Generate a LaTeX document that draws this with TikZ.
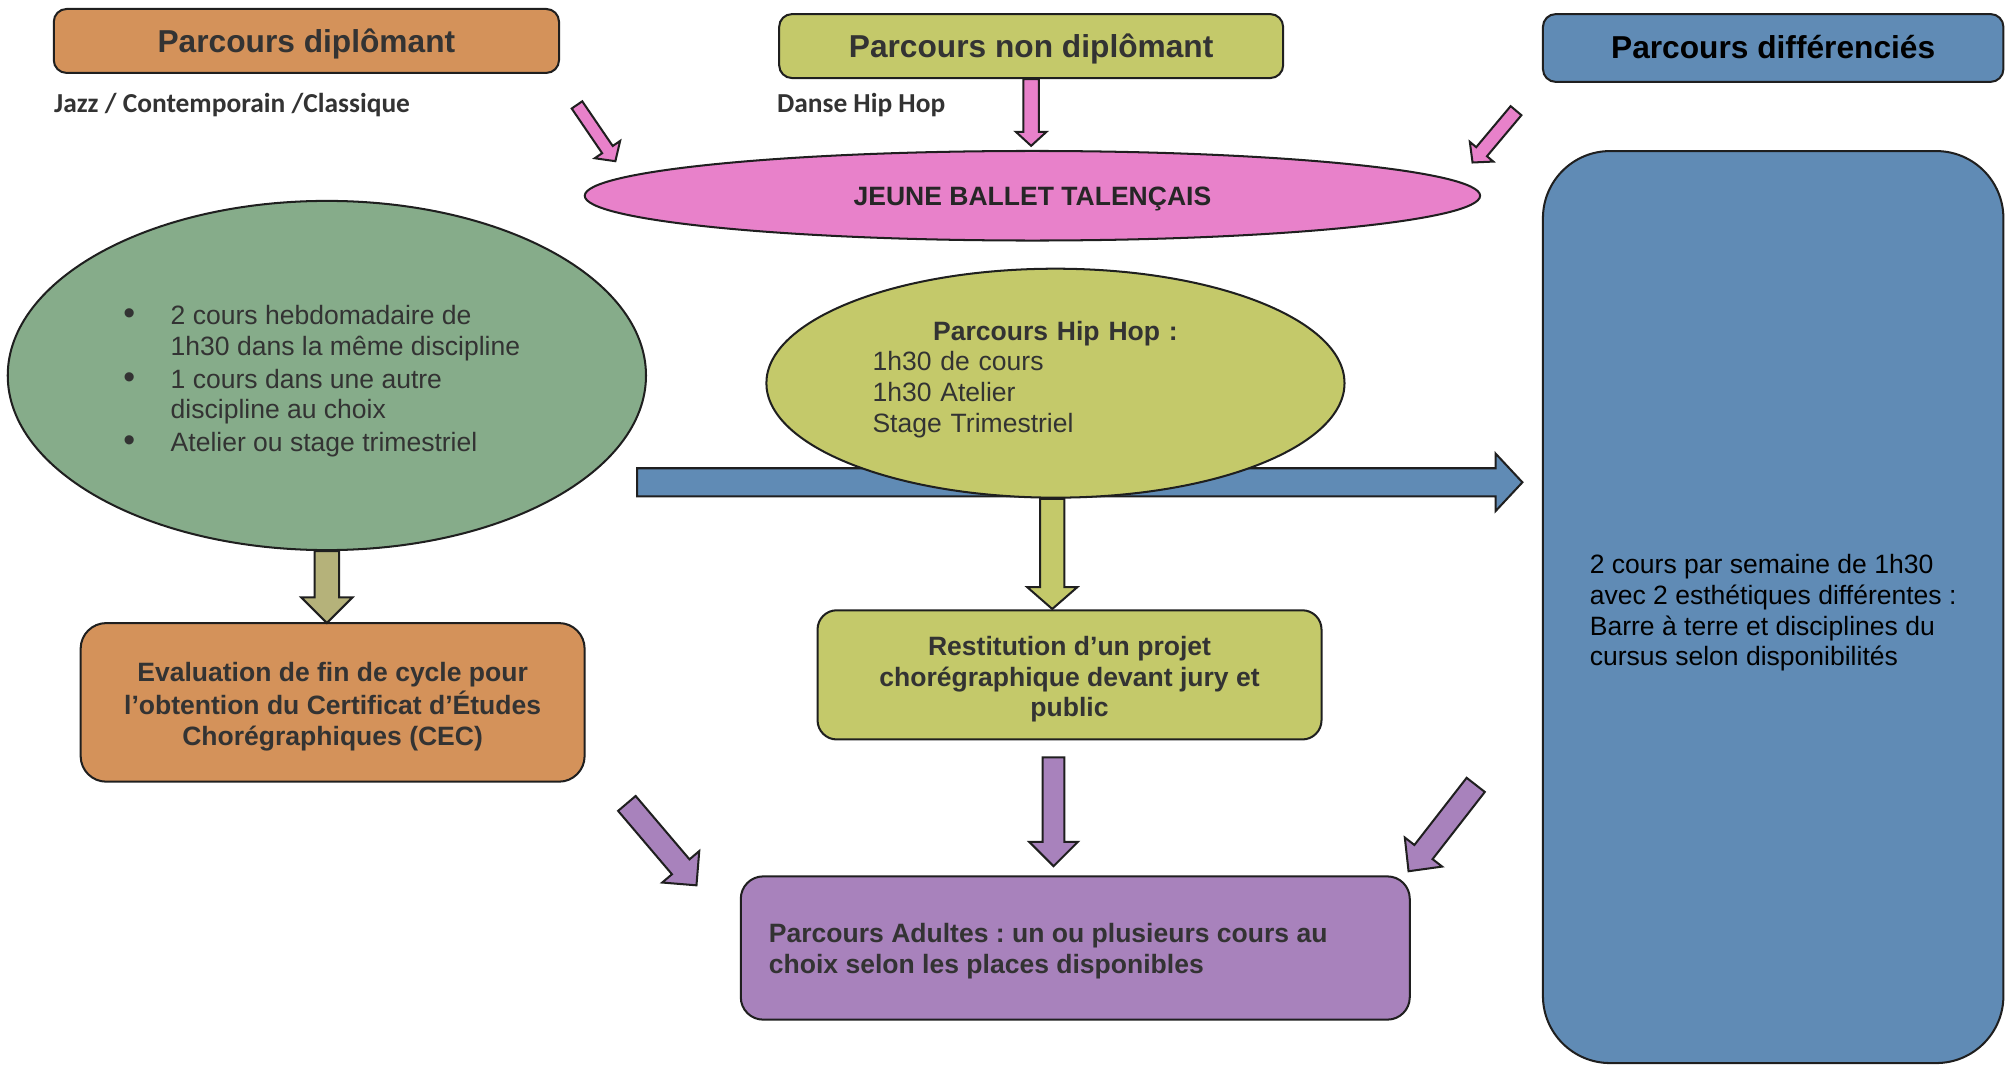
\documentclass[tikz,border=0pt]{standalone}
\usepackage{fontspec}
\setmainfont{Liberation Sans}
\newfontfamily\calibri{Carlito}
\usepackage{xcolor}
\usetikzlibrary{shapes,arrows,positioning,calc,arrows.meta}
\frenchspacing

\definecolor{orangeC}{HTML}{D4925A}
\definecolor{yellowC}{HTML}{C4C96A}
\definecolor{blueC}{HTML}{608BB5}
\definecolor{pinkC}{HTML}{E881CA}
\definecolor{greenC}{HTML}{86AC8A}
\definecolor{oliveC}{HTML}{B5B27A}
\definecolor{purpleC}{HTML}{A882BC}
\definecolor{lineC}{HTML}{1F1F1F}
\definecolor{textC}{HTML}{333333}

% fat outlined arrow: fill, from, to, half shaft, half head, head length
\newcommand{\blockarrow}[6]{%
  \coordinate (ba-base) at ($(#3)!#6!(#2)$);
  \draw[blockline, fill=#1] ($(#2)!#4!90:(#3)$) -- ($(ba-base)!#4!90:(#3)$)
    -- ($(ba-base)!#5!90:(#3)$) -- (#3) -- ($(ba-base)!#5!-90:(#3)$)
    -- ($(ba-base)!#4!-90:(#3)$) -- ($(#2)!#4!-90:(#3)$) -- cycle;}
% text block set a little lower in its shape
\newcommand{\nudgetext}[3]{\raisebox{-#1}[\height][\depth]{\begin{tabular}{@{}#2@{}}#3\end{tabular}}}
\newcommand{\puce}{{\fontsize{15}{13.7}\selectfont\textbullet}}

\begin{document}
\begin{tikzpicture}[x=0.02cm, y=-0.02cm,
    box/.style={draw=lineC, line width=0.9pt, rounded corners=0.2cm, inner sep=0pt, align=center},
    titlebox/.style={box, font=\fontsize{14.1}{17}\selectfont\bfseries, text=textC},
    textbox/.style={box, rounded corners=0.4cm, font=\fontsize{11.8}{13.7}\selectfont\bfseries, text=textC},
    bulle/.style={ellipse, draw=lineC, line width=0.9pt, inner sep=0pt},
    blockline/.style={draw=lineC, line width=0.9pt, line join=miter},
    bodyfont/.style={font=\fontsize{11.8}{13.7}\selectfont},
    subtitle/.style={anchor=west, inner sep=0pt, text=textC, font=\calibri\fontsize{12.2}{14}\selectfont\bfseries}]
  \useasboundingbox (0,0) rectangle (1568,833);

  % Top row
  \node[titlebox, fill=orangeC, minimum width=7.9cm, minimum height=1cm] (dipl) at (239.5,32) {\nudgetext{0.06cm}{c}{Parcours diplômant}};
  \node[titlebox, fill=yellowC, minimum width=7.88cm, minimum height=1cm] (nondipl) at (806,36) {\nudgetext{0.06cm}{c}{Parcours non diplômant}};
  \node[titlebox, fill=blueC, text=black, minimum width=7.2cm, minimum height=1.06cm] (diff) at (1386,37.5) {\nudgetext{0.04cm}{c}{Parcours différenciés}};
  \node[subtitle] (dipl-sub) at (42,82) {Jazz / Contemporain /Classique};
  \node[subtitle] (nondipl-sub) at (607,82) {Danse Hip Hop};

  % Jeune ballet
  \node[bulle, fill=pinkC, minimum width=14cm, minimum height=1.4cm, font=\fontsize{11.8}{13.7}\selectfont\bfseries, text=black!85] (jbt) at (807,153) {\nudgetext{0.06cm}{c}{JEUNE BALLET TALENÇAIS}};

  % Parcours differencies
  \node[box, rounded corners=1.05cm, fill=blueC, minimum width=7.2cm, minimum height=14.26cm, bodyfont] (diffbox) at (1386,474.5)
    {\nudgetext{0.1cm}{l}{2 cours par semaine de 1h30\\ avec 2 esthétiques différentes :\\ Barre à terre et disciplines du\\ cursus selon disponibilités}};

  % Cursus diplomant
  \node[bulle, fill=greenC, minimum width=9.98cm, minimum height=5.46cm, bodyfont, text=textC] (cursus) at (255.5,293.5) {%
    \raisebox{-0.1cm}[\height][\depth]{\begin{tabular}{@{}p{0.74cm}@{}l@{\hspace{0.16cm}}}
      \puce & 2 cours hebdomadaire de\\
      & 1h30 dans la même discipline\\[1pt]
      \puce & 1 cours dans une autre\\
      & discipline au choix\\[1pt]
      \puce & Atelier ou stage trimestriel
    \end{tabular}}};

  % Hip hop
  \coordinate (diff-from) at (498,377);
  \coordinate (diff-in) at (1190,377);
  \blockarrow{blueC}{diff-from}{diff-in}{0.22cm}{0.45cm}{0.42cm}
  \node[bulle, fill=yellowC, minimum width=9.04cm, minimum height=3.58cm] (hiphop) at (825,299.5) {};
  \node[bodyfont, text=textC, align=left, text width=5.72cm, inner sep=0pt] (hiphop-txt) at (825,296.5)
    {\makebox[5.72cm]{\bfseries Parcours Hip Hop :}\\ 1h30 de cours\\ 1h30 Atelier\\ Stage Trimestriel};

  % Lower boxes
  \node[textbox, fill=orangeC, minimum width=7.88cm, minimum height=2.48cm] (cec) at (260,549)
    {\nudgetext{0.08cm}{c}{Evaluation de fin de cycle pour\\ l’obtention du Certificat d’Études\\ Chorégraphiques (CEC)}};
  \node[textbox, rounded corners=0.3cm, fill=yellowC, minimum width=7.88cm, minimum height=2.02cm] (restit) at (836,527.5)
    {\nudgetext{0.08cm}{c}{Restitution d’un projet\\ chorégraphique devant jury et\\ public}};
  \node[textbox, rounded corners=0.35cm, fill=purpleC, minimum width=10.46cm, minimum height=2.24cm] (adultes) at (840.5,741)
    {\nudgetext{0.06cm}{p{9.58cm}}{Parcours Adultes : un ou plusieurs cours au\\ choix selon les places disponibles}};

  % Pink arrows
  \coordinate (dipl-out) at (451,82);
  \coordinate (jbt-in-l) at (481,126);
  \coordinate (jbt-in-c) at (806,114);
  \coordinate (diff-out) at (1185,86.5);
  \coordinate (jbt-in-r) at (1151,127);
  \blockarrow{pinkC}{dipl-out}{jbt-in-l}{0.1cm}{0.24cm}{0.22cm}
  \blockarrow{pinkC}{nondipl.south}{jbt-in-c}{0.12cm}{0.24cm}{0.22cm}
  \blockarrow{pinkC}{diff-out}{jbt-in-r}{0.11cm}{0.24cm}{0.22cm}

  % Down arrows
  \coordinate (cec-in) at (255.5,487);
  \coordinate (hiphop-out) at (822.5,390);
  \coordinate (restit-in) at (822.5,476);
  \blockarrow{oliveC}{cursus.south}{cec-in}{0.19cm}{0.4cm}{0.4cm}
  \blockarrow{yellowC}{hiphop-out}{restit-in}{0.19cm}{0.39cm}{0.34cm}

  % Purple arrows
  \coordinate (cec-out) at (490,628);
  \coordinate (adultes-in-l) at (544.4,692);
  \coordinate (restit-out) at (823.5,592);
  \coordinate (adultes-in-c) at (823.5,677);
  \coordinate (diffbox-out) at (1153.5,613.5);
  \coordinate (adultes-in-r) at (1101,681);
  \blockarrow{purpleC}{cec-out}{adultes-in-l}{0.18cm}{0.38cm}{0.38cm}
  \blockarrow{purpleC}{restit-out}{adultes-in-c}{0.17cm}{0.38cm}{0.38cm}
  \blockarrow{purpleC}{diffbox-out}{adultes-in-r}{0.18cm}{0.37cm}{0.38cm}
\end{tikzpicture}
\end{document}
